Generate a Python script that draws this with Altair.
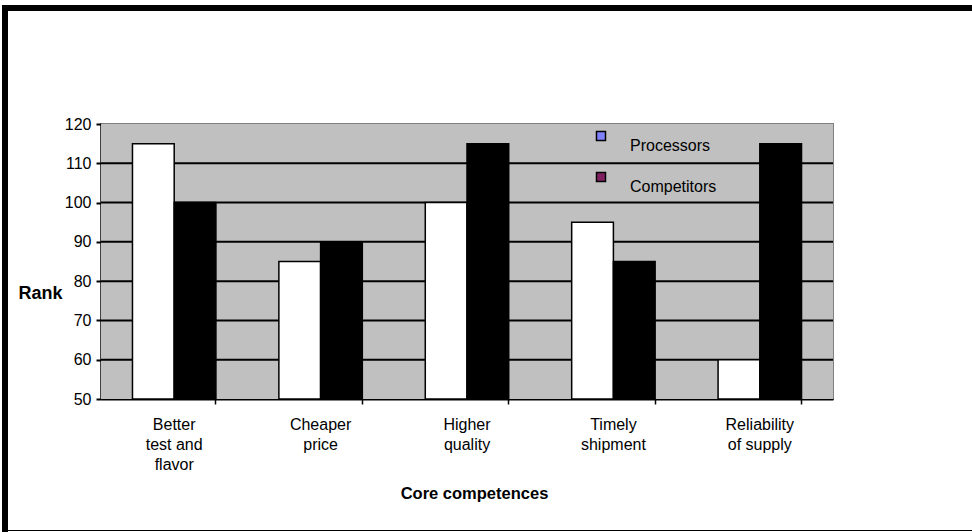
import altair as alt
import pandas as pd

# ---- data ----
categories = ["Better\ntest and\nflavor", "Cheaper\nprice", "Higher\nquality",
              "Timely\nshipment", "Reliability\nof supply"]
series = ["Processors", "Competitors"]
processors = [115, 85, 100, 95, 60]
competitors = [100, 90, 115, 85, 115]
bar_fills = ["#ffffff", "#000000"]
legend_colors = ["#8080ff", "#802060"]
y_ticks = [50, 60, 70, 80, 90, 100, 110, 120]
grid_values = [60, 70, 80, 90, 100, 110]

rows = []
for c, p, q in zip(categories, processors, competitors):
    rows.append({"category": c, "series": series[0], "value": p})
    rows.append({"category": c, "series": series[1], "value": q})
df = pd.DataFrame(rows)

FONT = "Liberation Sans"
W, H = 732, 275

x_scale = alt.Scale(domain=categories, paddingInner=0.43, paddingOuter=0.215)
y_scale = alt.Scale(domain=[50, 120], zero=False, nice=False)

y_axis = alt.Axis(values=y_ticks, title="Rank", titleAngle=0,
                  titleX=-61, titleY=169, titleAlign="center",
                  titleBaseline="middle", titleFontSize=18,
                  titleFontWeight="bold", labelFontSize=16, labelPadding=5,
                  tickSize=5, tickColor="black", tickWidth=2,
                  domainColor="black", domainWidth=2, grid=False)

one = pd.DataFrame({"k": [0]})

# plot-area background
plot_bg = alt.Chart(one).mark_rect(color="#c0c0c0").encode(
    x=alt.value(0), x2=alt.value(W), y=alt.value(0), y2=alt.value(H))

# horizontal gridlines (behind the bars)
grid = alt.Chart(pd.DataFrame({"value": grid_values})).mark_rule(
    color="black", strokeWidth=2
).encode(y=alt.Y("value:Q", scale=y_scale, axis=y_axis))

bars = alt.Chart(df).mark_bar(stroke="black", strokeWidth=1.5).encode(
    x=alt.X("category:N", scale=x_scale,
            axis=alt.Axis(title="Core competences", labelAngle=0,
                          labelExpr="split(datum.label, '\\n')",
                          labelLineHeight=20, labelFontSize=16, labelPadding=12,
                          tickSize=5, bandPosition=1, tickColor="black", tickWidth=1.5,
                          domainColor="black", domainWidth=2, grid=False,
                          titleFontSize=16.5, titleFontWeight="bold",
                          titleX=373, titleY=94, titleBaseline="middle",
                          titleAlign="center", titleAngle=0)),
    xOffset=alt.XOffset("series:N", sort=series,
                        scale=alt.Scale(domain=series, paddingInner=0, paddingOuter=0)),
    y=alt.Y("value:Q", scale=y_scale, axis=y_axis),
    y2=alt.datum(50),
    fill=alt.Fill("series:N", sort=series,
                  scale=alt.Scale(domain=series, range=bar_fills), legend=None),
)

# legend (drawn by hand, Excel-style colours)
legend_layers = []
for i, (name, col) in enumerate(zip(series, legend_colors)):
    item = pd.DataFrame({"series": [name]})
    legend_layers.append(
        alt.Chart(item).mark_square(size=81, stroke="black", strokeWidth=1.5,
                                    fill=col, opacity=1).encode(
            x=alt.value(500), y=alt.value(12 + 41 * i)))
    legend_layers.append(
        alt.Chart(item).mark_text(align="left", baseline="alphabetic", font=FONT,
                                  fontSize=16, color="black").encode(
            text="series:N", x=alt.value(529), y=alt.value(26.7 + 41.6 * i)))

frame_left = alt.Chart(one).mark_rule(color="black", strokeWidth=6).encode(
    x=alt.value(-96), y=alt.value(-119), y2=alt.value(408))
frame_top = alt.Chart(one).mark_rule(color="black", strokeWidth=6).encode(
    y=alt.value(-116), x=alt.value(-99), x2=alt.value(871))
frame_bottom = alt.Chart(one).mark_rule(color="black", strokeWidth=1.2).encode(
    y=alt.value(406.5), x=alt.value(-96), x2=alt.value(871))

chart = alt.layer(plot_bg, grid, bars, *legend_layers,
                  frame_left, frame_top, frame_bottom).properties(
    width=W, height=H,
    autosize=alt.AutoSizeParams(type="none"),
    padding={"left": 101, "top": 124, "right": 139, "bottom": 133},
    background="white",
).configure_view(
    stroke="#808080", strokeWidth=2
).configure_axis(
    labelFont=FONT, titleFont=FONT, labelColor="black", titleColor="black"
)

chart.save("out.html", embed_options={"renderer": "svg", "actions": False})
